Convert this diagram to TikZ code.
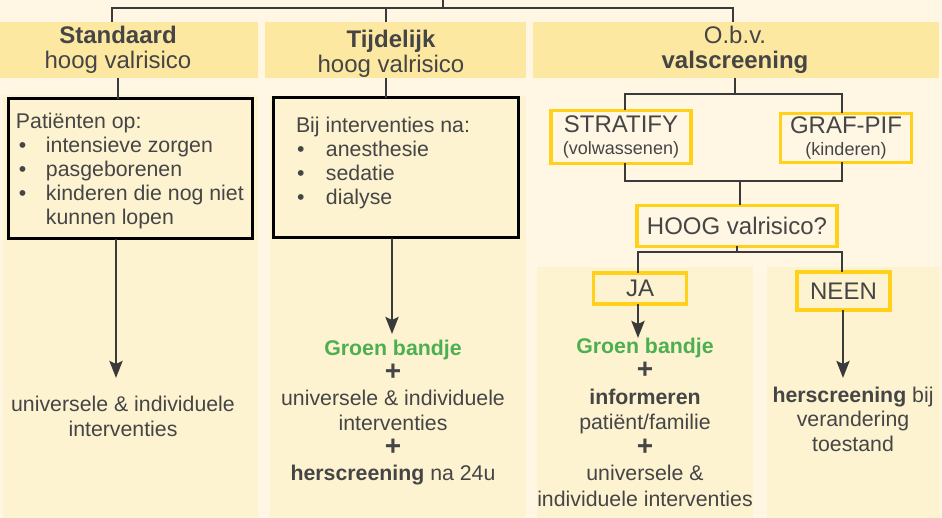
\documentclass[tikz,border=0pt]{standalone}
\usepackage{fontspec}
\setmainfont{Liberation Sans}
\usetikzlibrary{arrows.meta}
\definecolor{bg}{HTML}{FFF7E4}
\definecolor{bandc}{HTML}{FDE8A2}
\definecolor{panelc}{HTML}{FDF3D1}
\definecolor{txt}{HTML}{454545}
\definecolor{ln}{HTML}{3A3A3A}
\definecolor{ybord}{HTML}{FFD11A}
\definecolor{grn}{HTML}{4CAF50}
\begin{document}
\begin{tikzpicture}[x=1pt,y=-1pt,
  every node/.style={text=txt, inner sep=0pt, outer sep=0pt},
  bandbox/.style={fill=bandc, draw=none, anchor=north west, minimum height=56pt},
  panelbox/.style={fill=panelc, draw=none, anchor=north west},
  blackbox/.style={fill=panelc, draw=black, line width=3pt, anchor=north west},
  ybox/.style={draw=ybord, line width=3.2pt, align=center, font=\fontsize{24}{22}\selectfont},
  hdr/.style={align=center, font=\fontsize{24}{25}\selectfont},
  bodytxt/.style={align=left, font=\fontsize{21.3}{23.8}\selectfont, anchor=west},
  outtxt/.style={align=center, font=\fontsize{21.3}{25}\selectfont},
  conn/.style={draw=ln, line width=2.9pt},
  arr/.style={draw=ln, line width=2.9pt, -{Stealth[length=17pt,width=13pt,inset=3pt]}}
]
\fill[bg] (0,0) rectangle (942,518);
\useasboundingbox (0,0) rectangle (942,518);

% header bands
\node[bandbox, minimum width=258pt] (h1) at (0,22) {};
\node[bandbox, minimum width=261pt] (h2) at (265,22) {};
\node[bandbox, minimum width=406pt] (h3) at (533,22) {};

% column panels
\node[panelbox, minimum width=255pt, minimum height=423pt] (p1) at (3,95) {};
\node[panelbox, minimum width=256pt, minimum height=422pt] (p2) at (270,96) {};
\node[panelbox, minimum width=216pt, minimum height=251pt] (p3) at (537,267) {};
\node[panelbox, minimum width=173pt, minimum height=251pt] (p4) at (767,267) {};

% header texts
\node[hdr] (t1) at (118,49.5) {\textbf{Standaard}\\hoog valrisico};
\node[hdr] (t2) at (391,53.5) {\textbf{Tijdelijk}\\hoog valrisico};
\node[hdr] (t3) at (735,49.5) {O.b.v.\\\textbf{valscreening}};

% boxes with lists
\node[blackbox, minimum width=244pt, minimum height=140pt] (b1) at (8,99) {};
\node[bodytxt] (b1t) at (16,171) {Patiënten op:\\
\hspace*{3pt}\makebox[27pt][l]{•}intensieve zorgen\\
\hspace*{3pt}\makebox[27pt][l]{•}pasgeborenen\\
\hspace*{3pt}\makebox[27pt][l]{•}kinderen die nog niet\\
\hspace*{30pt}kunnen lopen};

\node[blackbox, minimum width=245pt, minimum height=140pt] (b2) at (273,98) {};
\node[bodytxt] (b2t) at (296,163) {Bij interventies na:\\
\hspace*{1pt}\makebox[29pt][l]{•}anesthesie\\
\hspace*{1pt}\makebox[29pt][l]{•}sedatie\\
\hspace*{1pt}\makebox[29pt][l]{•}dialyse};

% screening boxes
\node[ybox, fill=bg, minimum width=140pt, minimum height=53pt] (s1) at (621,137) {STRATIFY\\{\fontsize{18}{20}\selectfont (volwassenen)}};
\node[ybox, fill=bg, minimum width=131pt, minimum height=49pt] (g1) at (846,138) {GRAF-PIF\\{\fontsize{18}{20}\selectfont (kinderen)}};
\node[ybox, fill=bg, minimum width=200pt, minimum height=41pt] (hoog) at (737,226) {HOOG valrisico?};
\node[ybox, fill=panelc, minimum width=93pt, minimum height=31pt] (ja) at (640,288.5) {JA};
\node[ybox, fill=panelc, minimum width=93pt, minimum height=38pt] (neen) at (843.5,291) {NEEN};

% outcome texts
\node[outtxt] (o1) at (123,416) {universele \& individuele\\interventies};
\node[outtxt] (o2) at (393,413) {\textcolor{grn}{\bfseries Groen bandje}\\
{\fontsize{28}{25}\selectfont\bfseries +}\\
universele \& individuele\\interventies\\
{\fontsize{28}{25}\selectfont\bfseries +}\\
\textbf{herscreening} na 24u};
\node[outtxt, font=\fontsize{21.3}{25.5}\selectfont] (o3) at (645,422) {\textcolor{grn}{\bfseries Groen bandje}\\
{\fontsize{28}{25}\selectfont\bfseries +}\\
\textbf{informeren}\\patiënt/familie\\
{\fontsize{28}{25}\selectfont\bfseries +}\\
universele \&\\individuele interventies};
\node[outtxt, font=\fontsize{21.3}{24.5}\selectfont] (o4) at (853,419) {\textbf{herscreening} bij\\verandering\\toestand};

% top tree
\coordinate (top) at (443,0);
\coordinate (tj) at (443,8);
\coordinate (k1) at (112,8);
\coordinate (k2) at (386,8);
\coordinate (k3) at (733,8);
\draw[conn] (top) -- (tj);
\draw[conn] (k1 |- h1.north) -- (k1) -- (k3) -- (k3 |- h3.north);
\draw[conn] (k2) -- (k2 |- h2.north);

% header to boxes
\coordinate (v1) at (118,0);
\coordinate (v2) at (386,0);
\draw[conn] (h1.south -| v1) -- (b1.north -| v1);
\draw[conn] (h2.south -| v2) -- (b2.north -| v2);

% arrows to outcomes
\coordinate (e1) at (116,378);
\coordinate (e2) at (392,334);
\coordinate (e3) at (638,338);
\coordinate (e4) at (843,378);
\draw[arr] (b1.south -| e1) -- (e1);
\draw[arr] (b2.south -| e2) -- (e2);
\draw[arr] (ja.south -| e3) -- (e3);
\draw[arr] (neen.south -| e4) -- (e4);

% column 3 tree
\coordinate (c3) at (735,94);
\draw[conn] (h3.south -| c3) -- (c3);
\coordinate (sx) at (625,0);
\coordinate (gx) at (842,0);
\draw[conn] (s1.north -| sx) |- (c3) -| (g1.north -| gx);
\coordinate (c4) at (740,181);
\draw[conn] (s1.south -| sx) |- (c4) -| (g1.south -| gx);
\draw[conn] (c4) -- (c4 |- hoog.north);
\coordinate (c5) at (737,252);
\draw[conn] (hoog.south) -- (c5);
\coordinate (jx) at (638,0);
\draw[conn] (ja.north -| jx) |- (c5) -| (neen.north -| gx);
\end{tikzpicture}
\end{document}
